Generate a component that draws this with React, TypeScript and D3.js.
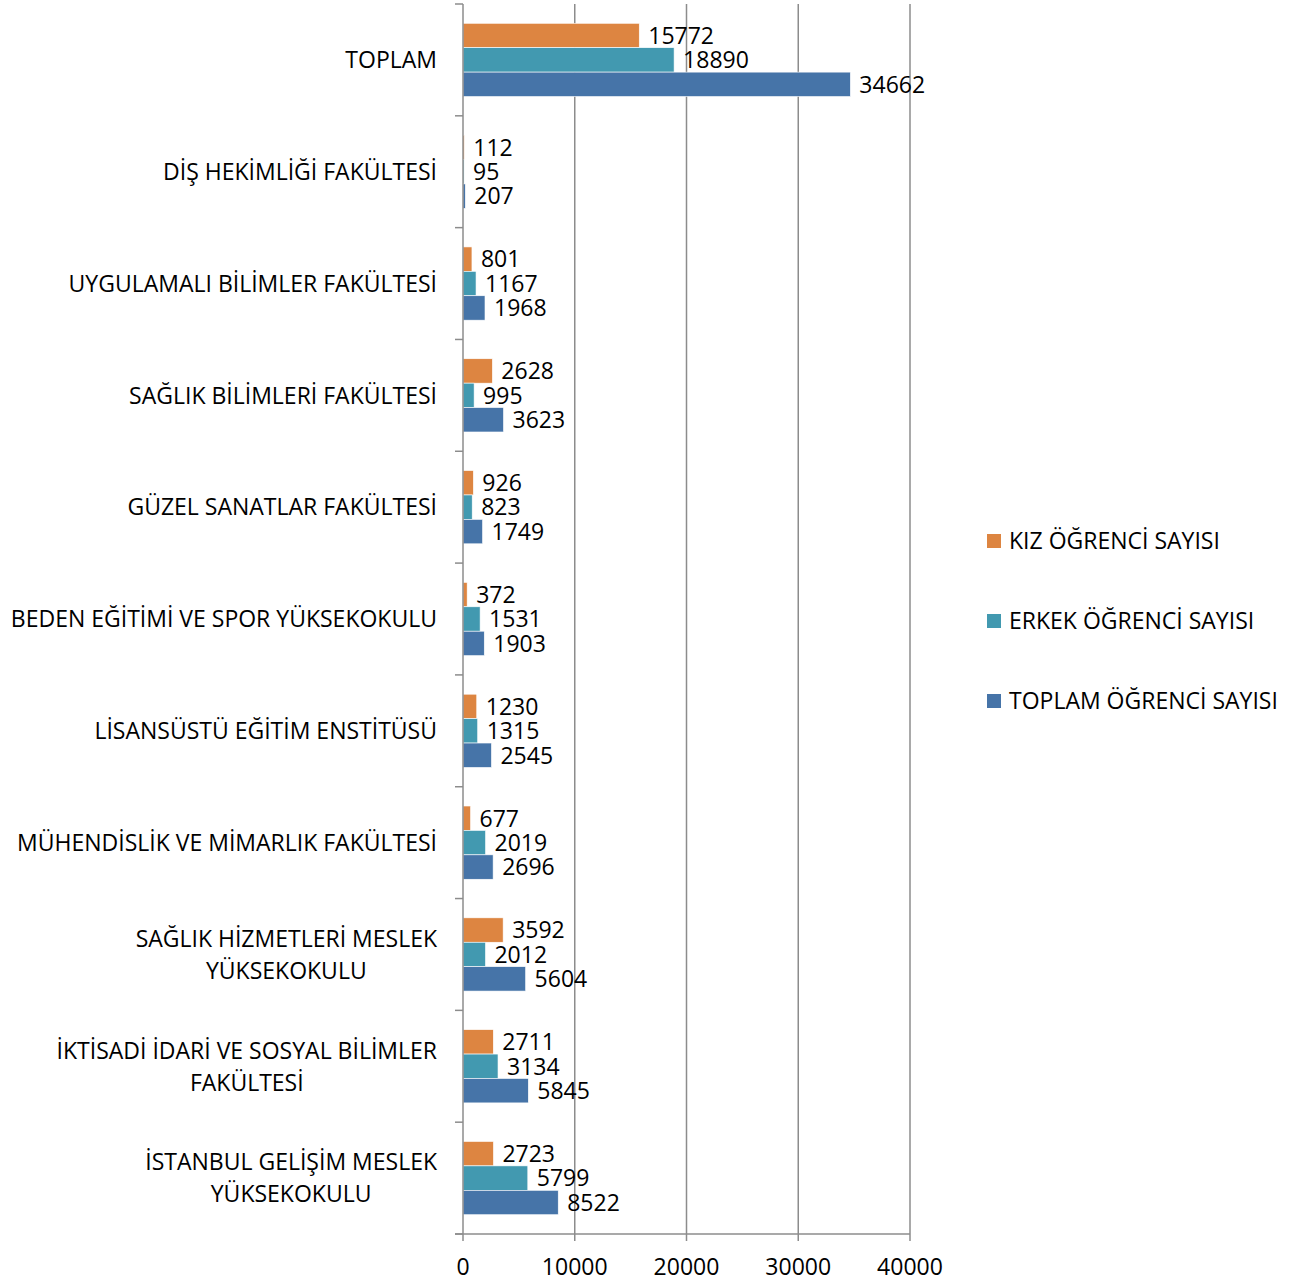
import React, { useEffect, useRef } from "react";
import * as d3 from "d3";

const categories: string[][] = [
  ["TOPLAM"],
  ["DİŞ HEKİMLİĞİ FAKÜLTESİ"],
  ["UYGULAMALI BİLİMLER FAKÜLTESİ"],
  ["SAĞLIK BİLİMLERİ FAKÜLTESİ"],
  ["GÜZEL SANATLAR FAKÜLTESİ"],
  ["BEDEN EĞİTİMİ VE SPOR YÜKSEKOKULU"],
  ["LİSANSÜSTÜ EĞİTİM ENSTİTÜSÜ"],
  ["MÜHENDİSLİK VE MİMARLIK FAKÜLTESİ"],
  ["SAĞLIK HİZMETLERİ MESLEK", "YÜKSEKOKULU"],
  ["İKTİSADİ İDARİ VE SOSYAL BİLİMLER", "FAKÜLTESİ"],
  ["İSTANBUL GELİŞİM MESLEK", "YÜKSEKOKULU"],
];

const kiz = [15772, 112, 801, 2628, 926, 372, 1230, 677, 3592, 2711, 2723];
const erkek = [18890, 95, 1167, 995, 823, 1531, 1315, 2019, 2012, 3134, 5799];
const toplam = [34662, 207, 1968, 3623, 1749, 1903, 2545, 2696, 5604, 5845, 8522];

const seriesNames = ["KIZ ÖĞRENCİ SAYISI", "ERKEK ÖĞRENCİ SAYISI", "TOPLAM ÖĞRENCİ SAYISI"];
const seriesColors = ["#DD8541", "#4299B0", "#4674A8"];
const xTicks = [0, 10000, 20000, 30000, 40000];

const W = 1294;
const H = 1282;
const FONT = "'Open Sans', Lato, sans-serif";
const FS = 23;

export default function App() {
  const ref = useRef<SVGSVGElement>(null);

  useEffect(() => {
    const svg = d3.select(ref.current);
    svg.selectAll("*").remove();

    const left = 463, right = 910, top = 4, bottom = 1234;
    const x = d3.scaleLinear().domain([0, 40000]).range([left, right]);
    const y = d3.scaleBand<number>().domain(d3.range(categories.length)).range([top, bottom]);
    const inner = d3.scaleBand<number>().domain([0, 1, 2]).range([0, y.bandwidth()]).paddingOuter(0.79).paddingInner(0);

    const series = [kiz, erkek, toplam];
    const g = svg.append("g").attr("font-family", FONT).attr("font-size", FS).attr("fill", "#000");

    // gridlines
    xTicks.slice(1).forEach((t) => {
      g.append("line").attr("x1", x(t)).attr("x2", x(t)).attr("y1", top).attr("y2", bottom + 7)
        .attr("stroke", "#8c8c8c").attr("stroke-width", 1.5);
    });
    // bottom axis
    g.append("line").attr("x1", left - 8).attr("x2", right).attr("y1", bottom).attr("y2", bottom)
      .attr("stroke", "#8c8c8c").attr("stroke-width", 1.5);
    g.append("line").attr("x1", left).attr("x2", left).attr("y1", bottom).attr("y2", bottom + 7)
      .attr("stroke", "#8c8c8c").attr("stroke-width", 1.5);
    xTicks.forEach((t) => {
      g.append("text").attr("x", x(t)).attr("y", bottom + 33).attr("dy", "0.36em").attr("text-anchor", "middle").text(String(t));
    });

    // bars
    series.forEach((vals, si) => {
      vals.forEach((v, ci) => {
        const by = (y(ci) as number) + (inner(si) as number);
        g.append("rect").attr("x", x(0)).attr("y", by).attr("width", x(v) - x(0)).attr("height", inner.bandwidth())
          .attr("fill", seriesColors[si]).attr("stroke", "#ffffff").attr("stroke-width", 0.6);
        g.append("text").attr("x", x(v) + 9).attr("y", by + inner.bandwidth() / 2).attr("dy", "0.36em").text(String(v));
      });
    });

    // left axis
    g.append("line").attr("x1", left).attr("x2", left).attr("y1", top).attr("y2", bottom)
      .attr("stroke", "#8c8c8c").attr("stroke-width", 1.5);
    for (let i = 0; i <= categories.length; i++) {
      const yy = i < categories.length ? (y(i) as number) : bottom;
      g.append("line").attr("x1", left - 8).attr("x2", left).attr("y1", yy).attr("y2", yy)
        .attr("stroke", "#8c8c8c").attr("stroke-width", 1.5);
    }

    // category labels
    const labelRight = 437;
    const lineH = 32;
    categories.forEach((lines, ci) => {
      const cy = (y(ci) as number) + y.bandwidth() / 2;
      const texts = lines.map((l, li) =>
        g.append("text").attr("y", cy + (li - (lines.length - 1) / 2) * lineH).attr("dy", "0.36em")
          .attr("text-anchor", "middle").text(l)
      );
      const widths = texts.map((t) => (t.node() as SVGTextElement).getComputedTextLength());
      const maxW = Math.max(...widths);
      texts.forEach((t) => t.attr("x", labelRight - maxW / 2));
    });

    // legend
    seriesNames.forEach((name, si) => {
      const ly = 541 + si * 80;
      g.append("rect").attr("x", 987).attr("y", ly - 7).attr("width", 14).attr("height", 14).attr("fill", seriesColors[si]);
      g.append("text").attr("x", 1009).attr("y", ly).attr("dy", "0.36em").text(name);
    });
  }, []);

  return <svg ref={ref} width={W} height={H} style={{ display: "block", position: "absolute", left: 0, top: 0 }} />;
}
